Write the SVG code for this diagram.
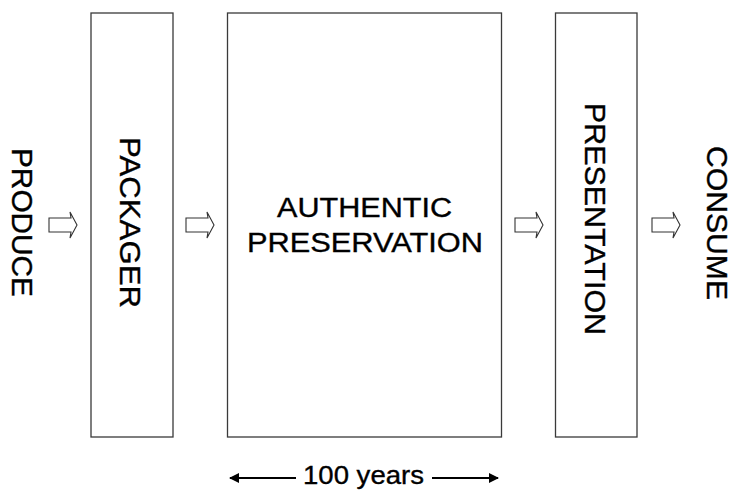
<svg xmlns="http://www.w3.org/2000/svg" width="734" height="490" viewBox="0 0 734 490">
<defs>
<style>
.box{fill:#fff;stroke:#3a3a3a;stroke-width:1.3}
.t{font-family:"Liberation Sans",Arial,sans-serif;fill:#000;stroke:#000;stroke-width:0.35}
.v{font-size:30px}
.h{font-size:27px}
.s{font-size:25px}
.ha{fill:#fff;stroke:#333;stroke-width:1.1;stroke-linejoin:miter}
.dim{stroke:#000;stroke-width:2;fill:none}
</style>
<marker id="ah" viewBox="0 0 10 10" refX="9" refY="5" markerWidth="15" markerHeight="10" markerUnits="userSpaceOnUse" orient="auto-start-reverse">
<path d="M0,0 L10,5 L0,10 z" fill="#000"/>
</marker>
<path id="hollow" d="M0,-7 L22,-7 L21,-13 L28,0 L21,13 L22,7 L0,7 z"/>
</defs>
<rect width="734" height="490" fill="#fff"/>
<g id="produce"><text class="t v" transform="translate(12,148) rotate(90)" textLength="149" lengthAdjust="spacingAndGlyphs">PRODUCE</text></g>
<g id="packager"><rect class="box" x="91" y="13" width="82" height="424"/><text class="t v" transform="translate(120,137) rotate(90)" textLength="171" lengthAdjust="spacingAndGlyphs">PACKAGER</text></g>
<g id="preservation"><rect class="box" x="227.5" y="13" width="274" height="424"/>
<text class="t h" x="277" y="217" textLength="175" lengthAdjust="spacingAndGlyphs">AUTHENTIC</text>
<text class="t h" x="247" y="252" textLength="236" lengthAdjust="spacingAndGlyphs">PRESERVATION</text></g>
<g id="presentation"><rect class="box" x="555.5" y="13" width="81.5" height="424"/><text class="t v" transform="translate(585,103) rotate(90)" textLength="232" lengthAdjust="spacingAndGlyphs">PRESENTATION</text></g>
<g id="consume"><text class="t v" transform="translate(707,146) rotate(90)" textLength="154" lengthAdjust="spacingAndGlyphs">CONSUME</text></g>
<g id="connectors">
<use href="#hollow" class="ha" x="49" y="225"/>
<use href="#hollow" class="ha" x="186" y="225"/>
<use href="#hollow" class="ha" x="515" y="225"/>
<use href="#hollow" class="ha" x="652" y="225"/>
<line class="dim" x1="230" y1="478" x2="296" y2="478" marker-start="url(#ah)"/>
<line class="dim" x1="432" y1="478" x2="498" y2="478" marker-end="url(#ah)"/>
</g>
<g id="timespan"><text class="t s" x="303" y="484" textLength="121" lengthAdjust="spacingAndGlyphs">100 years</text></g>
</svg>
